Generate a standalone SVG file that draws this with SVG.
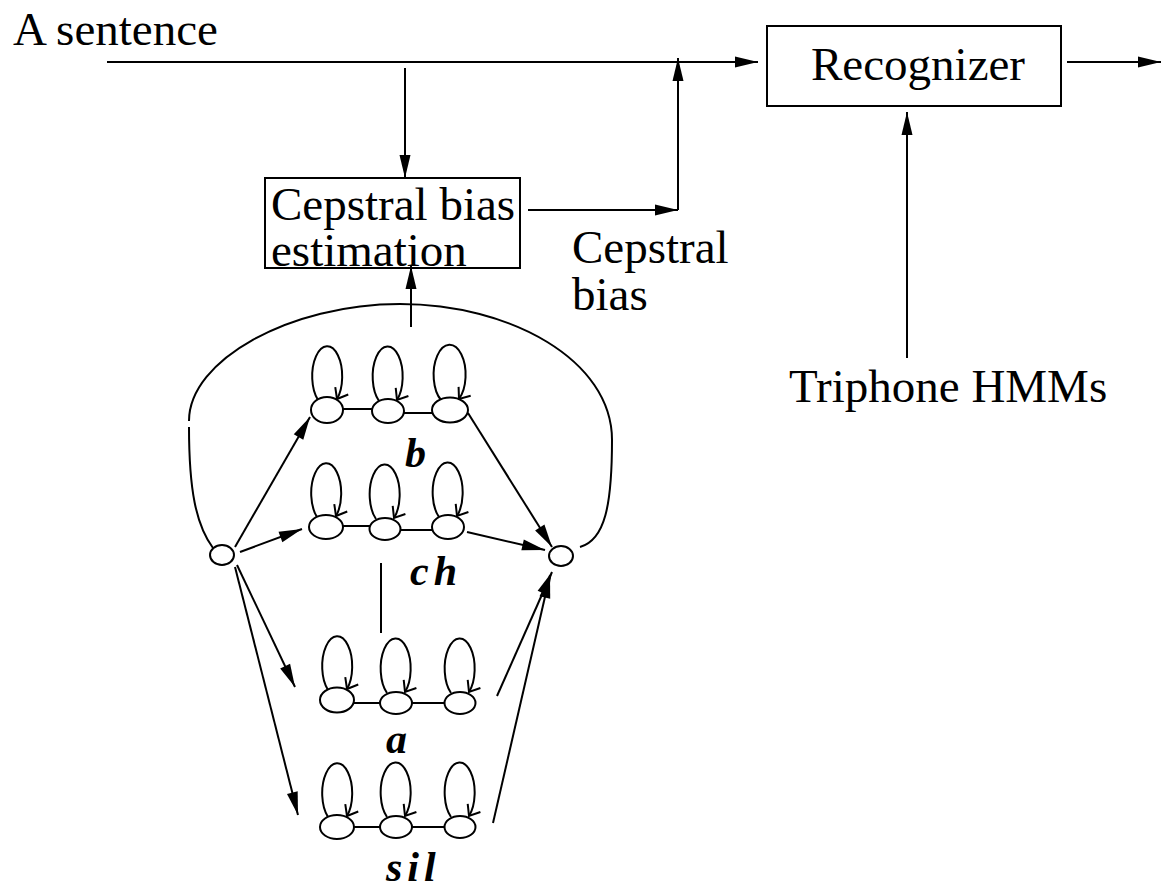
<svg xmlns="http://www.w3.org/2000/svg" width="1162" height="888" viewBox="0 0 1162 888">
<style>
.t{font-family:"Liberation Serif","Times New Roman",serif;font-size:47px;fill:#000}
.g{font-family:"Liberation Serif","Times New Roman",serif;font-size:42px;font-weight:bold;font-style:italic;fill:#000;letter-spacing:5px}
.ln{stroke:#000;stroke-width:2;fill:none}
.box{stroke:#000;stroke-width:2;fill:none}
.st{stroke:#000;stroke-width:2;fill:#fff}
.ar{marker-end:url(#fa)}
.lp{stroke:#000;stroke-width:2;fill:none;marker-end:url(#oa)}
</style>
<defs>
<marker id="fa" markerUnits="userSpaceOnUse" orient="auto" markerWidth="30" markerHeight="16" refX="0" refY="0" viewBox="-24 -8 26 16" overflow="visible">
<path d="M -23,-5.5 L 0,0 L -23,5.5 Z" fill="#000"/>
</marker>
<marker id="oa" markerUnits="userSpaceOnUse" orient="auto" markerWidth="16" markerHeight="18" refX="0" refY="0" viewBox="-12 -9 14 18" overflow="visible">
<path d="M -9.5,-7.5 L 0,0 L -9.5,7.5" fill="none" stroke="#000" stroke-width="2"/>
</marker>
</defs>

<text class="t" x="13" y="45">A sentence</text>

<g id="recognizer">
<rect class="box" x="767" y="26" width="294" height="80"/>
<text class="t" x="811" y="80">Recognizer</text>
</g>

<g id="cepstral-bias-estimation">
<rect class="box" x="265" y="178" width="255" height="90"/>
<text class="t" x="271" y="220">Cepstral bias</text>
<text class="t" x="271" y="266">estimation</text>
</g>

<g id="cepstral-bias-label">
<text class="t" x="572" y="263">Cepstral</text>
<text class="t" x="572" y="310">bias</text>
</g>

<g id="triphone-hmms">
<text class="t" x="789" y="402">Triphone HMMs</text>
</g>

<g id="connectors">
<line class="ln ar" x1="107" y1="62" x2="758" y2="62"/>
<line class="ln ar" x1="405" y1="68" x2="405" y2="178"/>
<line class="ln ar" x1="528" y1="210" x2="678" y2="210"/>
<line class="ln ar" x1="678" y1="210" x2="678" y2="58"/>
<line class="ln ar" x1="1067" y1="62" x2="1161" y2="62"/>
<line class="ln ar" x1="907" y1="358" x2="907" y2="112"/>
<line class="ln ar" x1="411" y1="327" x2="411" y2="266"/>
<!-- outer loop -->
<path class="ln" d="M 213,548 C 196,525 189,490 189,427"/>
<path class="ln" d="M 189,421 C 189,360 290,304 400,304 C 510,304 612,360 612,440 C 612,505 605,540 580,547"/>
<!-- entry arrows -->
<line class="ln ar" x1="235" y1="547" x2="310" y2="417"/>
<line class="ln ar" x1="240" y1="552" x2="302" y2="529"/>
<line class="ln ar" x1="237" y1="565" x2="295" y2="687"/>
<line class="ln ar" x1="235" y1="567" x2="298" y2="815"/>
<!-- exit arrows -->
<line class="ln ar" x1="468" y1="413" x2="552" y2="547"/>
<line class="ln ar" x1="467" y1="532" x2="545" y2="550"/>
<line class="ln ar" x1="497" y1="696" x2="552" y2="572"/>
<line class="ln ar" x1="493" y1="823" x2="550" y2="575"/>
<!-- ellipsis line -->
<line class="ln" x1="381" y1="563" x2="381" y2="633"/>
<!-- state links -->
<line class="ln" x1="343" y1="409" x2="373" y2="409"/>
<line class="ln" x1="404" y1="413" x2="433" y2="413"/>
<line class="ln" x1="343" y1="526" x2="370" y2="526"/>
<line class="ln" x1="400" y1="530" x2="433" y2="530"/>
<line class="ln" x1="354" y1="703" x2="380" y2="703"/>
<line class="ln" x1="412" y1="703" x2="445" y2="703"/>
<line class="ln" x1="354" y1="827" x2="380" y2="827"/>
<line class="ln" x1="412" y1="827" x2="445" y2="827"/>
<!-- self loops -->
<path class="lp" d="M 318,400 A 15 30 0 1 1 337,399"/>
<path class="lp" d="M 379,401 A 15 30 0 1 1 397,400"/>
<path class="lp" d="M 441,400 A 16 30 0 1 1 459,399"/>
<path class="lp" d="M 317,517 A 15 30 0 1 1 336,516"/>
<path class="lp" d="M 376,519 A 15 30 0 1 1 394,518"/>
<path class="lp" d="M 439,517 A 15 30 0 1 1 457,516"/>
<path class="lp" d="M 328,690 A 15 30 0 1 1 347,689"/>
<path class="lp" d="M 387,693 A 15 30 0 1 1 405,692"/>
<path class="lp" d="M 451,693 A 15 30 0 1 1 469,692"/>
<path class="lp" d="M 328,817 A 15 30 0 1 1 347,816"/>
<path class="lp" d="M 387,817 A 15 30 0 1 1 405,816"/>
<path class="lp" d="M 451,817 A 15 30 0 1 1 469,816"/>
</g>

<g id="start-node"><ellipse class="st" cx="222" cy="555" rx="12" ry="10"/></g>
<g id="end-node"><ellipse class="st" cx="561" cy="556" rx="12" ry="10"/></g>

<g id="hmm-b">
<ellipse class="st" cx="327" cy="410" rx="16" ry="13"/>
<ellipse class="st" cx="388" cy="411" rx="16" ry="12"/>
<ellipse class="st" cx="450" cy="410" rx="18" ry="12.5"/>
<text class="g" x="405" y="467">b</text>
</g>
<g id="hmm-ch">
<ellipse class="st" cx="326" cy="527" rx="17" ry="12"/>
<ellipse class="st" cx="385" cy="529" rx="15.5" ry="11"/>
<ellipse class="st" cx="448" cy="527" rx="16" ry="12"/>
<text class="g" x="410" y="585">ch</text>
</g>
<g id="hmm-a">
<ellipse class="st" cx="337" cy="700" rx="17" ry="12.5"/>
<ellipse class="st" cx="396" cy="703" rx="16" ry="11"/>
<ellipse class="st" cx="460" cy="703" rx="15.5" ry="11"/>
<text class="g" x="386" y="753">a</text>
</g>
<g id="hmm-sil">
<ellipse class="st" cx="337" cy="827" rx="17" ry="12"/>
<ellipse class="st" cx="396" cy="827" rx="16" ry="11"/>
<ellipse class="st" cx="460" cy="827" rx="15.5" ry="11"/>
<text class="g" x="386" y="881">sil</text>
</g>
</svg>
